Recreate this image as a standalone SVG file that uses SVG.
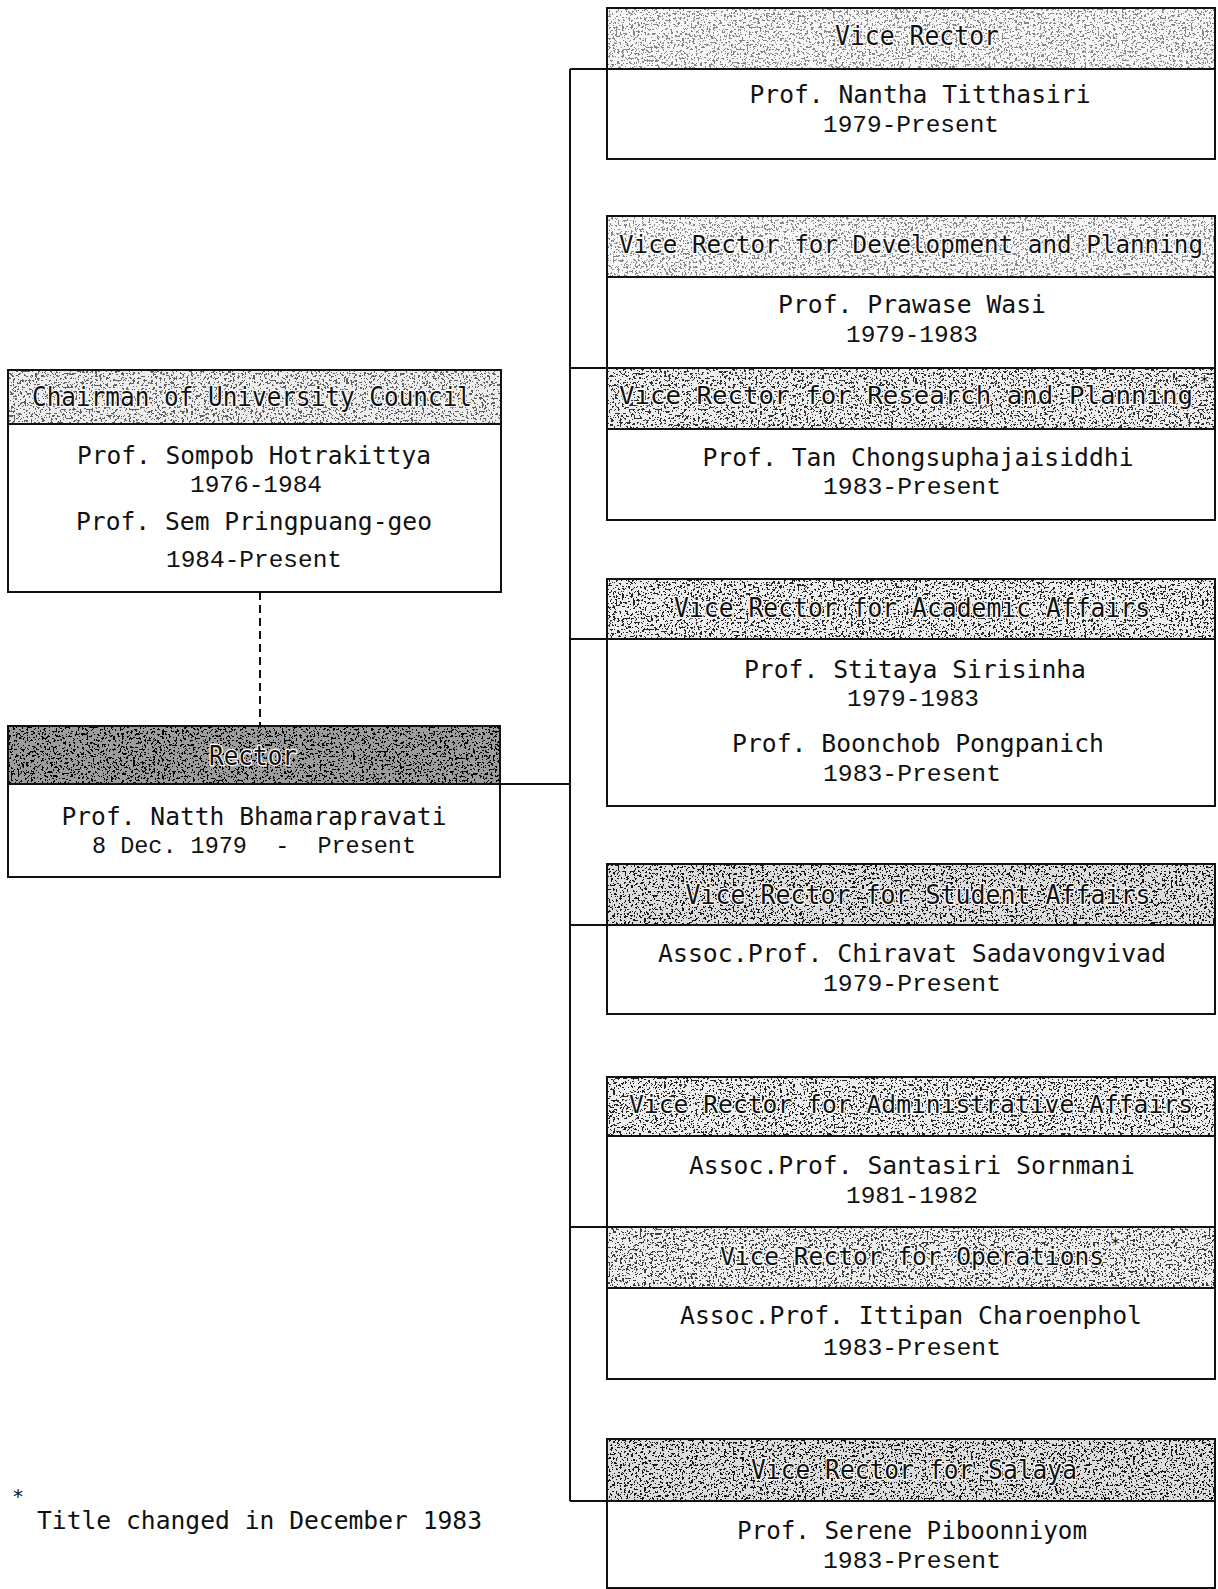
<svg xmlns="http://www.w3.org/2000/svg" width="1218" height="1589" viewBox="0 0 1218 1589">
<style>
  .box { fill: #fff; stroke: #111; stroke-width: 2; }
  .sep { stroke: #111; stroke-width: 2; fill: none; }
  .hdr { fill: #000; filter: url(#speck); }
  .hbase { fill: #ededed; }
  .t { font-family: "DejaVu Sans Mono", "Liberation Mono", monospace; font-size: 26px; fill: #111; text-anchor: middle; dominant-baseline: central; }
  .th { stroke: #fff; stroke-width: 2.5; paint-order: stroke; stroke-linejoin: round; }
  .n { font-family: "DejaVu Sans Mono", "Liberation Mono", monospace; font-size: 25px; fill: #111; text-anchor: middle; dominant-baseline: central; }
  .d { font-family: "Liberation Mono", "DejaVu Sans Mono", monospace; font-size: 23px; fill: #111; text-anchor: middle; dominant-baseline: central; }
  .star { font-family: "DejaVu Sans Mono", monospace; font-size: 18px; fill: #111; }
  .foot { font-family: "DejaVu Sans Mono", "Liberation Mono", monospace; font-size: 25px; fill: #111; dominant-baseline: central; }
  .conn { stroke: #111; stroke-width: 2; fill: none; }
</style>
<defs>
  <filter id="speck" x="0" y="0" width="1" height="1" color-interpolation-filters="sRGB">
    <feTurbulence type="fractalNoise" baseFrequency="0.45" numOctaves="3" seed="11" result="n"/>
    <feColorMatrix in="n" type="matrix" values="0 0 0 0 0  0 0 0 0 0  0 0 0 0 0  1 0 0 0 0" result="a"/>
    <feComponentTransfer in="a" result="b">
      <feFuncA type="discrete" tableValues="0 0 0 0 0 0 0 0 0 0 0 0 1 1 1 1 1 1 1 1"/>
    </feComponentTransfer>
    <feComposite in="b" in2="SourceGraphic" operator="in"/>
  </filter>
</defs>

<g id="connectors">
  <line class="conn" x1="570" y1="69" x2="570" y2="1501"/>
  <line class="conn" x1="570" y1="69" x2="607" y2="69"/>
  <line class="conn" x1="570" y1="368" x2="607" y2="368"/>
  <line class="conn" x1="570" y1="639" x2="607" y2="639"/>
  <line class="conn" x1="570" y1="925" x2="607" y2="925"/>
  <line class="conn" x1="570" y1="1227" x2="607" y2="1227"/>
  <line class="conn" x1="570" y1="1501" x2="607" y2="1501"/>
  <line class="conn" x1="500" y1="784" x2="570" y2="784"/>
  <line class="conn" x1="260" y1="592" x2="260" y2="726" stroke-dasharray="8 5"/>
</g>

<g id="chairman">
  <rect class="box" x="8" y="370" width="493" height="222"/>
  <rect class="hbase" x="9" y="371" width="491" height="53"/>
  <rect class="hdr" x="9" y="371" width="491" height="53" fill-opacity="0.6"/>
  <line class="sep" x1="8" y1="424" x2="501" y2="424"/>
  <text class="t th" x="252" y="397" textLength="440" lengthAdjust="spacingAndGlyphs">Chairman of University Council</text>
  <text class="n" x="254" y="455" textLength="354" lengthAdjust="spacingAndGlyphs">Prof. Sompob Hotrakittya</text>
  <text class="d" x="256" y="486" textLength="132" lengthAdjust="spacingAndGlyphs">1976-1984</text>
  <text class="n" x="254" y="521" textLength="356" lengthAdjust="spacingAndGlyphs">Prof. Sem Pringpuang-geo</text>
  <text class="d" x="254" y="561" textLength="176" lengthAdjust="spacingAndGlyphs">1984-Present</text>
</g>

<g id="rector">
  <rect class="box" x="8" y="726" width="492" height="151"/>
  <rect class="hbase" x="9" y="727" width="490" height="57" style="fill:#9c9c9c"/>
  <rect class="hdr" x="9" y="727" width="490" height="57" fill-opacity="1"/>
  <line class="sep" x1="8" y1="784" x2="500" y2="784"/>
  <text class="t th" x="253" y="756" textLength="88" lengthAdjust="spacingAndGlyphs">Rector</text>
  <text class="n" x="254" y="816" textLength="385" lengthAdjust="spacingAndGlyphs">Prof. Natth Bhamarapravati</text>
  <text class="d" x="254" y="847" textLength="324" lengthAdjust="spacingAndGlyphs" xml:space="preserve">8 Dec. 1979  -  Present</text>
</g>

<g id="vr-main">
  <rect class="box" x="607" y="8" width="608" height="151"/>
  <rect class="hbase" x="608" y="9" width="606" height="60" style="fill:#f6f6f6"/>
  <rect class="hdr" x="608" y="9" width="606" height="60" fill-opacity="0.45"/>
  <line class="sep" x1="607" y1="69" x2="1215" y2="69"/>
  <text class="t th" x="917" y="36" textLength="164" lengthAdjust="spacingAndGlyphs">Vice Rector</text>
  <text class="n" x="920" y="94" textLength="341" lengthAdjust="spacingAndGlyphs">Prof. Nantha Titthasiri</text>
  <text class="d" x="911" y="126" textLength="176" lengthAdjust="spacingAndGlyphs">1979-Present</text>
</g>

<g id="vr-development">
  <rect class="box" x="607" y="216" width="608" height="304"/>
  <rect class="hbase" x="608" y="217" width="606" height="60" style="fill:#f6f6f6"/>
  <rect class="hdr" x="608" y="217" width="606" height="60" fill-opacity="0.45"/>
  <line class="sep" x1="607" y1="277" x2="1215" y2="277"/>
  <text class="t th" x="911" y="245" textLength="584" lengthAdjust="spacingAndGlyphs" style="font-size:24px">Vice Rector for Development and Planning</text>
  <text class="n" x="912" y="304" textLength="268" lengthAdjust="spacingAndGlyphs">Prof. Prawase Wasi</text>
  <text class="d" x="912" y="336" textLength="132" lengthAdjust="spacingAndGlyphs">1979-1983</text>
</g>

<g id="vr-research">
  <line class="sep" x1="607" y1="368" x2="1215" y2="368"/>
  <rect class="hbase" x="608" y="369" width="606" height="60"/>
  <rect class="hdr" x="608" y="369" width="606" height="60" fill-opacity="0.8"/>
  <line class="sep" x1="607" y1="429" x2="1215" y2="429"/>
  <text class="t th" x="906" y="396" textLength="574" lengthAdjust="spacingAndGlyphs" style="font-size:24px">Vice Rector for Research and Planning</text>
  <text class="star th" x="1199" y="388">*</text>
  <text class="n" x="918" y="457" textLength="431" lengthAdjust="spacingAndGlyphs">Prof. Tan Chongsuphajaisiddhi</text>
  <text class="d" x="912" y="488" textLength="178" lengthAdjust="spacingAndGlyphs">1983-Present</text>
</g>

<g id="vr-academic">
  <rect class="box" x="607" y="579" width="608" height="227"/>
  <rect class="hbase" x="608" y="580" width="606" height="59"/>
  <rect class="hdr" x="608" y="580" width="606" height="59" fill-opacity="0.85"/>
  <line class="sep" x1="607" y1="639" x2="1215" y2="639"/>
  <text class="t th" x="912" y="608" textLength="476" lengthAdjust="spacingAndGlyphs">Vice Rector for Academic Affairs</text>
  <text class="n" x="915" y="669" textLength="342" lengthAdjust="spacingAndGlyphs">Prof. Stitaya Sirisinha</text>
  <text class="d" x="913" y="700" textLength="132" lengthAdjust="spacingAndGlyphs">1979-1983</text>
  <text class="n" x="918" y="743" textLength="372" lengthAdjust="spacingAndGlyphs">Prof. Boonchob Pongpanich</text>
  <text class="d" x="912" y="775" textLength="178" lengthAdjust="spacingAndGlyphs">1983-Present</text>
</g>

<g id="vr-student">
  <rect class="box" x="607" y="864" width="608" height="150"/>
  <rect class="hbase" x="608" y="865" width="606" height="60" style="fill:#dcdcdc"/>
  <rect class="hdr" x="608" y="865" width="606" height="60" fill-opacity="0.9"/>
  <line class="sep" x1="607" y1="925" x2="1215" y2="925"/>
  <text class="t th" x="918" y="895" textLength="465" lengthAdjust="spacingAndGlyphs">Vice Rector for Student Affairs</text>
  <text class="n" x="912" y="953" textLength="508" lengthAdjust="spacingAndGlyphs">Assoc.Prof. Chiravat Sadavongvivad</text>
  <text class="d" x="912" y="985" textLength="178" lengthAdjust="spacingAndGlyphs">1979-Present</text>
</g>

<g id="vr-administrative">
  <rect class="box" x="607" y="1077" width="608" height="302"/>
  <rect class="hbase" x="608" y="1078" width="606" height="58"/>
  <rect class="hdr" x="608" y="1078" width="606" height="58" fill-opacity="0.85"/>
  <line class="sep" x1="607" y1="1136" x2="1215" y2="1136"/>
  <text class="t th" x="911" y="1105" textLength="564" lengthAdjust="spacingAndGlyphs" style="font-size:24px">Vice Rector for Administrative Affairs</text>
  <text class="n" x="912" y="1165" textLength="446" lengthAdjust="spacingAndGlyphs">Assoc.Prof. Santasiri Sornmani</text>
  <text class="d" x="912" y="1197" textLength="132" lengthAdjust="spacingAndGlyphs">1981-1982</text>
</g>

<g id="vr-operations">
  <line class="sep" x1="607" y1="1227" x2="1215" y2="1227"/>
  <rect class="hbase" x="608" y="1228" width="606" height="60"/>
  <rect class="hdr" x="608" y="1228" width="606" height="60" fill-opacity="0.75"/>
  <line class="sep" x1="607" y1="1288" x2="1215" y2="1288"/>
  <text class="t th" x="912" y="1257" textLength="384" lengthAdjust="spacingAndGlyphs" style="font-size:24px">Vice Rector for Operations</text>
  <text class="star th" x="1110" y="1250">*</text>
  <text class="n" x="911" y="1315" textLength="462" lengthAdjust="spacingAndGlyphs">Assoc.Prof. Ittipan Charoenphol</text>
  <text class="d" x="912" y="1349" textLength="178" lengthAdjust="spacingAndGlyphs">1983-Present</text>
</g>

<g id="vr-salaya">
  <rect class="box" x="607" y="1439" width="608" height="149"/>
  <rect class="hbase" x="608" y="1440" width="606" height="61" style="fill:#dcdcdc"/>
  <rect class="hdr" x="608" y="1440" width="606" height="61" fill-opacity="0.9"/>
  <line class="sep" x1="607" y1="1501" x2="1215" y2="1501"/>
  <text class="t th" x="914" y="1470" textLength="326" lengthAdjust="spacingAndGlyphs">Vice Rector for Salaya</text>
  <text class="n" x="912" y="1530" textLength="350" lengthAdjust="spacingAndGlyphs">Prof. Serene Piboonniyom</text>
  <text class="d" x="912" y="1562" textLength="178" lengthAdjust="spacingAndGlyphs">1983-Present</text>
</g>

<g id="footnote">
  <text class="star" x="12" y="1503" style="font-size:20px">*</text>
  <text class="foot" x="37" y="1520" textLength="445" lengthAdjust="spacingAndGlyphs">Title changed in December 1983</text>
</g>
</svg>
